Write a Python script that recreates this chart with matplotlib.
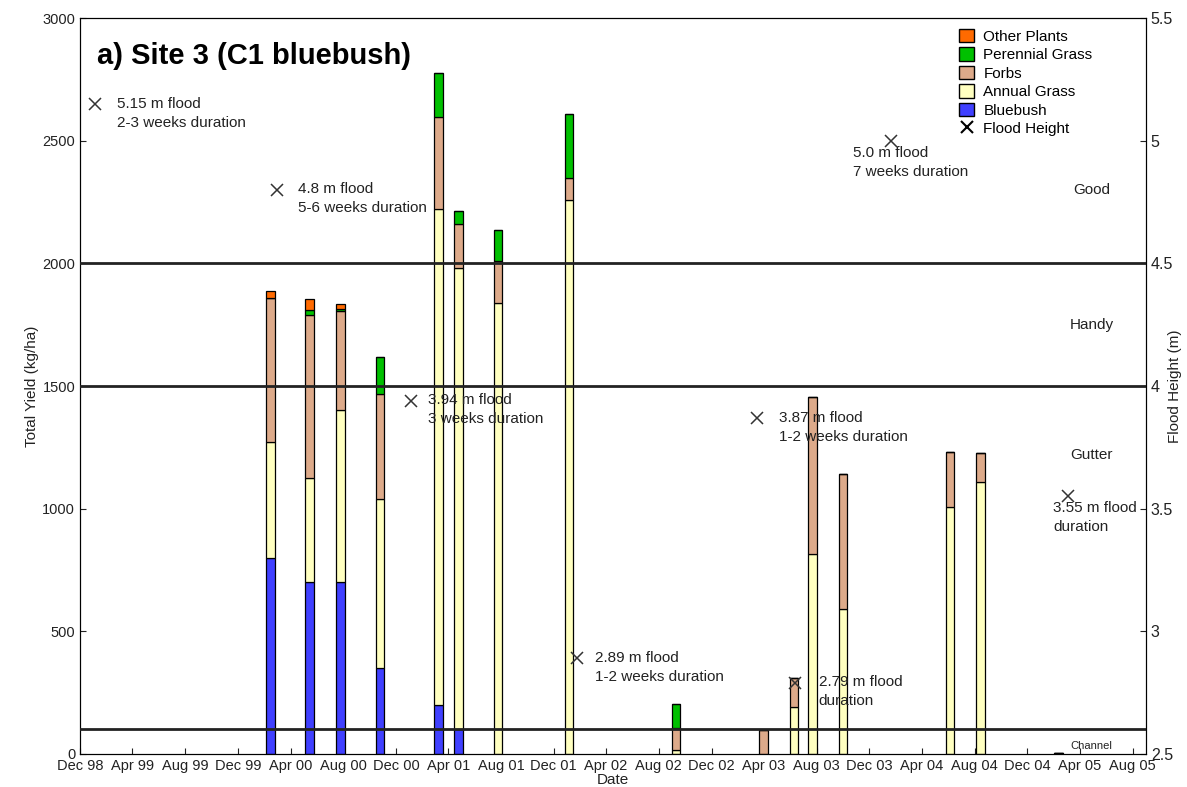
import datetime as dt
import matplotlib
matplotlib.use("Agg")
import matplotlib.pyplot as plt
import matplotlib.dates as mdates
from matplotlib.patches import Patch
from matplotlib.lines import Line2D

plt.rcParams['font.family'] = ['Liberation Sans', 'DejaVu Sans']

# sample dates and yields (kg/ha) per component
sample_dates = ["2000-02-15", "2000-05-15", "2000-07-25", "2000-10-25", "2001-03-10",
                "2001-04-25", "2001-07-25", "2002-01-05", "2002-09-10", "2003-04-01",
                "2003-06-10", "2003-07-22", "2003-10-01", "2004-06-05", "2004-08-15",
                "2005-02-10"]
bluebush = [800, 700, 700, 350, 200, 100, 0, 0, 0, 0, 0, 0, 0, 0, 0, 0]
annual_grass = [470, 425, 702, 690, 2020, 1880, 1840, 2260, 15, 0, 190, 815, 590, 1005, 1108, 5]
forbs = [590, 665, 404, 428, 375, 180, 170, 90, 90, 98, 120, 640, 550, 225, 120, 0]
perennial_grass = [0, 20, 8, 150, 180, 55, 125, 260, 100, 0, 0, 0, 0, 0, 0, 0]
other_plants = [28, 45, 21, 0, 0, 0, 0, 0, 0, 0, 0, 0, 0, 0, 0, 0]

# flood events
flood_dates = ["1999-01-05", "2000-03-01", "2001-01-05", "2002-01-24", "2003-03-17",
               "2003-06-12", "2004-01-20", "2005-03-05"]
flood_height = [5.15, 4.8, 3.94, 2.89, 3.87, 2.79, 5.0, 3.55]
flood_text = ["5.15 m flood\n2-3 weeks duration", "4.8 m flood\n5-6 weeks duration",
              "3.94 m flood\n3 weeks duration", "2.89 m flood\n1-2 weeks duration",
              "3.87 m flood\n1-2 weeks duration", "2.79 m flood\nduration",
              "5.0 m flood\n7 weeks duration", "3.55 m flood\nduration"]
text_shift_days = [50, 48, 40, 42, 50, 55, -87, -35]

# zone boundaries (flood height, m)
zone_lines = [4.5, 4.0, 2.6]
zone_names = ["Good", "Handy", "Gutter", "Channel"]
zone_label_y = [4.80, 4.25, 3.72, 2.51]

x = mdates.datestr2num(sample_dates)
fx = mdates.datestr2num(flood_dates)

fig = plt.figure(figsize=(11.87, 7.87), dpi=100)
ax = fig.add_axes([0.0674, 0.042, 0.898, 0.935])

series = [("Bluebush", bluebush, "#4040ff"),
          ("Annual Grass", annual_grass, "#ffffc0"),
          ("Forbs", forbs, "#ddaa8a"),
          ("Perennial Grass", perennial_grass, "#00c000"),
          ("Other Plants", other_plants, "#ff6a00")]
bottom = [0] * len(x)
for name, vals, col in series:
    ax.bar(x, vals, width=20, bottom=bottom, color=col, edgecolor="black", linewidth=0.9, zorder=2)
    bottom = [b + v for b, v in zip(bottom, vals)]

ax.set_xlim(mdates.date2num(dt.date(1998, 12, 1)), mdates.date2num(dt.date(2005, 9, 1)))
ax.set_ylim(0, 3000)
ax.set_yticks(range(0, 3001, 500))
ax.xaxis.set_major_locator(mdates.MonthLocator(bymonth=[4, 8, 12]))
ax.xaxis.set_major_formatter(mdates.DateFormatter("%b %y"))
ax.tick_params(direction="in", labelsize=10.5, length=4, colors="#222222")
ax.set_xlabel("Date", fontsize=11, labelpad=0, color="#222222")
ax.set_ylabel("Total Yield (kg/ha)", fontsize=11, labelpad=2, color="#222222")

ax2 = ax.twinx()
ax2.set_ylim(2.5, 5.5)
ax2.set_yticks([2.5, 3, 3.5, 4, 4.5, 5, 5.5])
ax2.set_yticklabels(["2.5", "3", "3.5", "4", "4.5", "5", "5.5"])
ax2.tick_params(direction="in", labelsize=11.5, length=4, colors="#222222")
ax2.set_ylabel("Flood Height (m)", fontsize=11, color="#222222")
ax2.yaxis.set_label_coords(1.021, 0.5)
for h in zone_lines:
    ax2.axhline(h, color="#222222", linewidth=2, zorder=3)
ax2.plot(fx, flood_height, "x", color="#333333", markersize=9, markeredgewidth=1.1, zorder=4)
for i, (d, h, t, s) in enumerate(zip(fx, flood_height, flood_text, text_shift_days)):
    if s < 0:
        ax2.text(d + s, h - 0.02, t, fontsize=11, va="top", ha="left", color="#222222", linespacing=1.45)
    else:
        ax2.text(d + s, h + 0.03, t, fontsize=11, va="top", ha="left", color="#222222", linespacing=1.45)

xz = mdates.date2num(dt.date(2005, 4, 28))
for name, yz in zip(zone_names, zone_label_y):
    if name == "Channel":
        ax2.text(xz, yz, name, fontsize=8, ha="center", va="bottom", color="#222222")
    else:
        ax2.text(xz, yz, name, fontsize=11, ha="center", va="center", color="#222222")

ax.text(0.016, 0.968, "a) Site 3 (C1 bluebush)", transform=ax.transAxes, fontsize=21,
        fontweight="bold", va="top")

handles = [Patch(facecolor=c, edgecolor="black", label=n) for n, v, c in series[::-1]]
handles.append(Line2D([], [], marker="x", linestyle="none", color="black", markersize=9,
                      markeredgewidth=1.5, label="Flood Height"))
ax2.legend(handles=handles, loc="upper right", bbox_to_anchor=(0.96, 1.0), frameon=False,
           fontsize=11, handlelength=1.0, handleheight=1.0, labelspacing=0.22, borderaxespad=0.3,
           handletextpad=0.6)

fig.savefig("out.png", dpi=100)
